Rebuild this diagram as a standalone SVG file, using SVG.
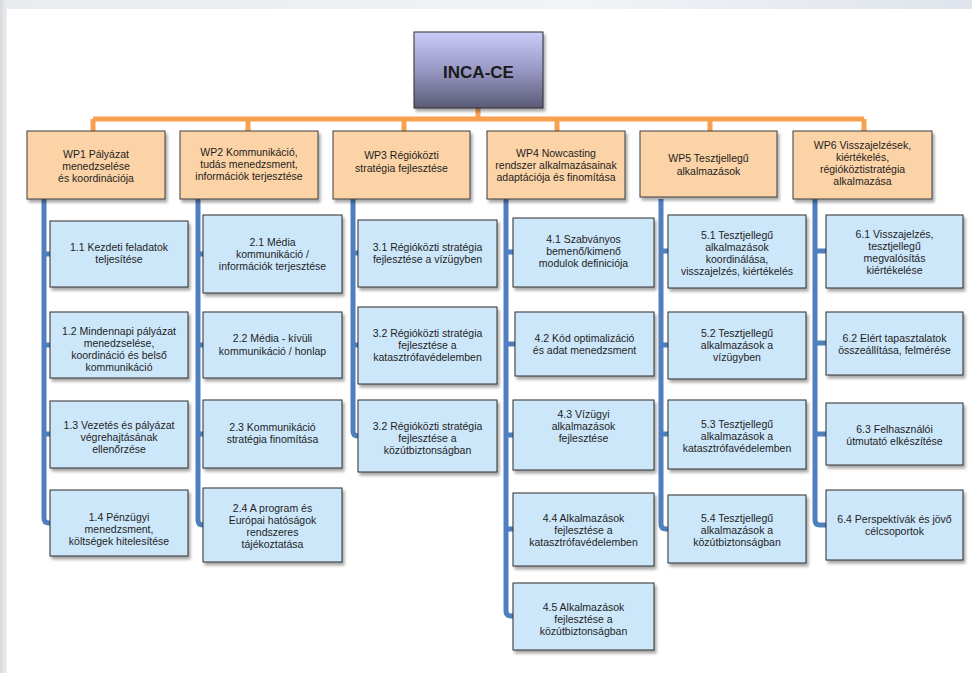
<svg xmlns="http://www.w3.org/2000/svg" width="972" height="673" viewBox="0 0 972 673">
<defs>
<linearGradient id="gInca" x1="0" y1="0" x2="0" y2="1"><stop offset="0" stop-color="#cbcbf9"/><stop offset="0.5" stop-color="#9898c4"/><stop offset="1" stop-color="#5a5a76"/></linearGradient>
<linearGradient id="gLeft" x1="0" y1="0" x2="1" y2="0"><stop offset="0" stop-color="#d7d9dd"/><stop offset="1" stop-color="#eceef1"/></linearGradient>
<linearGradient id="gTop" x1="0" y1="0" x2="1" y2="0"><stop offset="0" stop-color="#e9ebef"/><stop offset="0.6" stop-color="#f1f3f6"/><stop offset="1" stop-color="#dfe4ec"/></linearGradient>
<filter id="sh" x="-10%" y="-10%" width="125%" height="130%"><feDropShadow dx="2" dy="3" stdDeviation="1.8" flood-color="#000" flood-opacity="0.35"/></filter>
<style>
text{font-family:"Liberation Sans",Arial,sans-serif;font-size:10.5px;fill:#1e1e1e;text-anchor:middle}
.inca{font-size:17px;font-weight:bold;fill:#1a1a1a}
.wp{fill:#fcd3a6;stroke:#3c3c3c;stroke-width:1;filter:url(#sh)}
.ch{fill:#cde7fa;stroke:#2e2e2e;stroke-width:1;filter:url(#sh)}
.or{stroke:#f7a050;stroke-width:5;fill:none}
.bl{stroke:#4f7fbf;stroke-width:5;fill:none}
</style>
</defs>
<rect x="0" y="0" width="972" height="673" fill="url(#gTop)"/>
<rect x="0" y="0" width="7" height="673" fill="url(#gLeft)"/>
<rect x="7" y="9" width="965" height="664" fill="#ffffff"/>

<g id="connectors">
<path class="or" d="M478 108 V119 M93 119 H864 M93 119 V131 M248 119 V131 M404 119 V131 M557 119 V131 M710 119 V131 M864 119 V131"/>
<path class="bl" d="M44 199 V518 Q44 523 49 523 H50 M44 254 H50 M44 345 H50 M44 434 H50"/>
<path class="bl" d="M198 199 V520 Q198 525 203 525 M198 254 H203 M198 345 H203 M198 434 H203"/>
<path class="bl" d="M353 199 V431 Q353 436 358 436 M353 253 H358 M353 345 H358"/>
<path class="bl" d="M506 199 V611 Q506 616 511 616 H513 M506 252 H513 M506 344 H515 M506 435 H513 M506 529 H513"/>
<path class="bl" d="M661 199 V524 Q661 529 666 529 H668 M661 251 H668 M661 345 H668 M661 434 H668"/>
<path class="bl" d="M815 199 V520 Q815 525 820 525 H826 M815 251 H826 M815 343 H826 M815 434 H826"/>
</g>

<g id="inca">
<rect x="414" y="32" width="129" height="76" fill="url(#gInca)" stroke="#2e2e2e" stroke-width="1" filter="url(#sh)"/>
<text class="inca" x="478.5" y="78">INCA-CE</text>
</g>

<g id="wp1"><rect class="wp" x="27" y="131" width="138" height="68"/>
<text x="96" y="158">WP1 Pályázat</text><text x="96" y="170">menedzselése</text><text x="96" y="182">és koordinációja</text></g>
<g id="wp2"><rect class="wp" x="180" y="131" width="138" height="68"/>
<text x="249" y="156">WP2 Kommunikáció,</text><text x="249" y="168">tudás menedzsment,</text><text x="249" y="180">információk terjesztése</text></g>
<g id="wp3"><rect class="wp" x="333" y="131" width="137" height="68"/>
<text x="401.5" y="159">WP3 Régióközti</text><text x="401.5" y="172">stratégia fejlesztése</text></g>
<g id="wp4"><rect class="wp" x="487" y="131" width="138" height="68"/>
<text x="556" y="157">WP4 Nowcasting</text><text x="556" y="169">rendszer alkalmazásainak</text><text x="556" y="181">adaptációja és finomítása</text></g>
<g id="wp5"><rect class="wp" x="640" y="131" width="137" height="66"/>
<text x="708.5" y="162">WP5 Tesztjellegű</text><text x="708.5" y="175">alkalmazások</text></g>
<g id="wp6"><rect class="wp" x="793" y="131" width="139" height="68"/>
<text x="862.5" y="149">WP6 Visszajelzések,</text><text x="862.5" y="161">kiértékelés,</text><text x="862.5" y="173">régióköztistratégia</text><text x="862.5" y="185">alkalmazása</text></g>

<g id="n11"><rect class="ch" x="50" y="221" width="138" height="66"/>
<text x="119" y="251">1.1 Kezdeti feladatok</text><text x="119" y="263">teljesítése</text></g>
<g id="n12"><rect class="ch" x="50" y="312" width="138" height="66"/>
<text x="119" y="335">1.2 Mindennapi pályázat</text><text x="119" y="347">menedzselése,</text><text x="119" y="359">koordináció és belső</text><text x="119" y="371">kommunikáció</text></g>
<g id="n13"><rect class="ch" x="50" y="401" width="138" height="67"/>
<text x="119" y="429">1.3 Vezetés és pályázat</text><text x="119" y="441">végrehajtásának</text><text x="119" y="453">ellenőrzése</text></g>
<g id="n14"><rect class="ch" x="50" y="490" width="138" height="66"/>
<text x="119" y="521">1.4 Pénzügyi</text><text x="119" y="533">menedzsment,</text><text x="119" y="545">költségek hitelesítése</text></g>

<g id="n21"><rect class="ch" x="203" y="215" width="139" height="78"/>
<text x="272.5" y="246">2.1 Média</text><text x="272.5" y="258">kommunikáció /</text><text x="272.5" y="270">információk terjesztése</text></g>
<g id="n22"><rect class="ch" x="203" y="312" width="139" height="66"/>
<text x="272.5" y="342">2.2 Média - kívüli</text><text x="272.5" y="355">kommunikáció / honlap</text></g>
<g id="n23"><rect class="ch" x="203" y="400" width="139" height="68"/>
<text x="272.5" y="431">2.3 Kommunikáció</text><text x="272.5" y="443">stratégia finomítása</text></g>
<g id="n24"><rect class="ch" x="203" y="488" width="139" height="74"/>
<text x="272.5" y="512">2.4 A program és</text><text x="272.5" y="524">Európai hatóságok</text><text x="272.5" y="536">rendszeres</text><text x="272.5" y="548">tájékoztatása</text></g>

<g id="n31"><rect class="ch" x="358" y="220" width="139" height="67"/>
<text x="427.5" y="251">3.1 Régióközti stratégia</text><text x="427.5" y="263">fejlesztése a vízügyben</text></g>
<g id="n32"><rect class="ch" x="358" y="307" width="139" height="77"/>
<text x="427.5" y="337">3.2 Régióközti stratégia</text><text x="427.5" y="349">fejlesztése a</text><text x="427.5" y="361">katasztrófavédelemben</text></g>
<g id="n33"><rect class="ch" x="358" y="400" width="139" height="72"/>
<text x="427.5" y="430">3.2 Régióközti stratégia</text><text x="427.5" y="442">fejlesztése a</text><text x="427.5" y="454">közútbiztonságban</text></g>

<g id="n41"><rect class="ch" x="513" y="218" width="141" height="69"/>
<text x="583.5" y="243">4.1 Szabványos</text><text x="583.5" y="255">bemenő/kimenő</text><text x="583.5" y="267">modulok definiciója</text></g>
<g id="n42"><rect class="ch" x="515" y="312" width="139" height="64"/>
<text x="584.5" y="342">4.2 Kód optimalizáció</text><text x="584.5" y="354">és adat menedzsment</text></g>
<g id="n43"><rect class="ch" x="513" y="400" width="141" height="70"/>
<text x="583.5" y="418">4.3 Vízügyi</text><text x="583.5" y="430">alkalmazások</text><text x="583.5" y="442">fejlesztése</text></g>
<g id="n44"><rect class="ch" x="513" y="493" width="141" height="73"/>
<text x="583.5" y="522">4.4 Alkalmazások</text><text x="583.5" y="534">fejlesztése a</text><text x="583.5" y="546">katasztrófavédelemben</text></g>
<g id="n45"><rect class="ch" x="513" y="583" width="141" height="67"/>
<text x="583.5" y="611">4.5 Alkalmazások</text><text x="583.5" y="623">fejlesztése a</text><text x="583.5" y="635">közútbiztonságban</text></g>

<g id="n51"><rect class="ch" x="668" y="215" width="138" height="73"/>
<text x="737" y="239">5.1 Tesztjellegű</text><text x="737" y="251">alkalmazások</text><text x="737" y="263">koordinálása,</text><text x="737" y="275">visszajelzés, kiértékelés</text></g>
<g id="n52"><rect class="ch" x="668" y="312" width="138" height="67"/>
<text x="737" y="337">5.2 Tesztjellegű</text><text x="737" y="349">alkalmazások a</text><text x="737" y="361">vízügyben</text></g>
<g id="n53"><rect class="ch" x="668" y="400" width="138" height="69"/>
<text x="737" y="428">5.3 Tesztjellegű</text><text x="737" y="440">alkalmazások a</text><text x="737" y="452">katasztrófavédelemben</text></g>
<g id="n54"><rect class="ch" x="668" y="495" width="138" height="68"/>
<text x="737" y="522">5.4 Tesztjellegű</text><text x="737" y="534">alkalmazások a</text><text x="737" y="546">közútbiztonságban</text></g>

<g id="n61"><rect class="ch" x="826" y="215" width="137" height="73"/>
<text x="894.5" y="238">6.1 Visszajelzés,</text><text x="894.5" y="250">tesztjellegű</text><text x="894.5" y="262">megvalósítás</text><text x="894.5" y="274">kiértékelése</text></g>
<g id="n62"><rect class="ch" x="826" y="312" width="137" height="63"/>
<text x="894.5" y="342">6.2 Elért tapasztalatok</text><text x="894.5" y="354">összeállítása, felmérése</text></g>
<g id="n63"><rect class="ch" x="826" y="403" width="137" height="62"/>
<text x="894.5" y="433">6.3 Felhasználói</text><text x="894.5" y="445">útmutató elkészítése</text></g>
<g id="n64"><rect class="ch" x="826" y="490" width="137" height="70"/>
<text x="894.5" y="523">6.4 Perspektívák és jövő</text><text x="894.5" y="535">célcsoportok</text></g>
</svg>
